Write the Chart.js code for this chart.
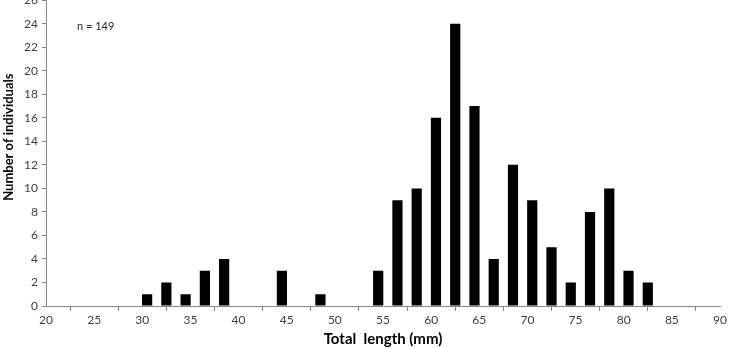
<!DOCTYPE html>
<html>
<head>
<meta charset="utf-8">
<script src="https://cdn.jsdelivr.net/npm/chart.js@4/dist/chart.umd.min.js"></script>
<style>
html,body{margin:0;padding:0;background:#fff;overflow:hidden;width:730px;height:348px;}
#wrap{position:relative;width:730px;height:359px;margin-top:-11px;}
</style>
</head>
<body>
<div id="wrap"><canvas id="c" width="730" height="359"></canvas></div>
<script>
const binCentres = [30.5, 32.5, 34.5, 36.5, 38.5, 44.5, 48.5, 54.5, 56.5, 58.5, 60.5, 62.5, 64.5, 66.5, 68.5, 70.5, 72.5, 74.5, 76.5, 78.5, 80.5, 82.5];
const counts     = [1, 2, 1, 3, 4, 3, 1, 3, 9, 10, 16, 24, 17, 4, 12, 9, 5, 2, 8, 10, 3, 2];
const xTitle = 'Total  length (mm)';
const yTitle = 'Number of individuals';
const note = 'n = 149';

const FONT = 'Lato, "Open Sans", sans-serif';
const points = binCentres.map((x, i) => ({x: x, y: counts[i]}));

const textPlugin = {
  id: 'texts',
  afterDraw(chart) {
    const ctx = chart.ctx;
    const a = chart.chartArea;
    ctx.save();
    ctx.fillStyle = '#262626';
    ctx.font = '11px ' + FONT;
    ctx.textAlign = 'left';
    ctx.textBaseline = 'middle';
    ctx.fillText(note, a.left + 31, a.top + 26);
    ctx.translate(9, a.top + 137);
    ctx.rotate(-Math.PI / 2);
    ctx.font = 'bold 13px ' + FONT;
    ctx.textAlign = 'center';
    ctx.fillStyle = '#000';
    ctx.fillText(yTitle, 0, 0);
    ctx.restore();
  }
};

new Chart(document.getElementById('c'), {
  type: 'bar',
  data: {
    datasets: [{
      data: points,
      backgroundColor: '#000',
      borderWidth: 0,
      barPercentage: 0.53,
      categoryPercentage: 1.0
    }]
  },
  options: {
    responsive: false,
    animation: false,
    layout: {padding: {left: 0, right: 10, top: 0, bottom: 0}},
    plugins: {legend: {display: false}, tooltip: {enabled: false}},
    scales: {
      x: {
        type: 'linear',
        min: 20, max: 90,
        offset: false,
        afterFit(s) { s.height = 42; },
        border: {color: '#868686', width: 1},
        grid: {display: true, drawOnChartArea: false, drawTicks: true, tickLength: 5, color: '#868686'},
        ticks: {stepSize: 5, color: '#404040', font: {family: FONT, size: 12}, padding: 2, maxRotation: 0},
        title: {display: true, text: xTitle, color: '#000', font: {family: FONT, size: 15, weight: 'bold'}, padding: {top: 3, bottom: 0}}
      },
      y: {
        min: 0, max: 26,
        afterFit(s) { s.width = 46; },
        border: {color: '#868686', width: 1},
        grid: {display: true, drawOnChartArea: false, drawTicks: true, tickLength: 4, color: '#868686'},
        ticks: {stepSize: 2, color: '#404040', font: {family: FONT, size: 12}, padding: 4}
      }
    }
  },
  plugins: [textPlugin]
});
</script>
</body>
</html>
